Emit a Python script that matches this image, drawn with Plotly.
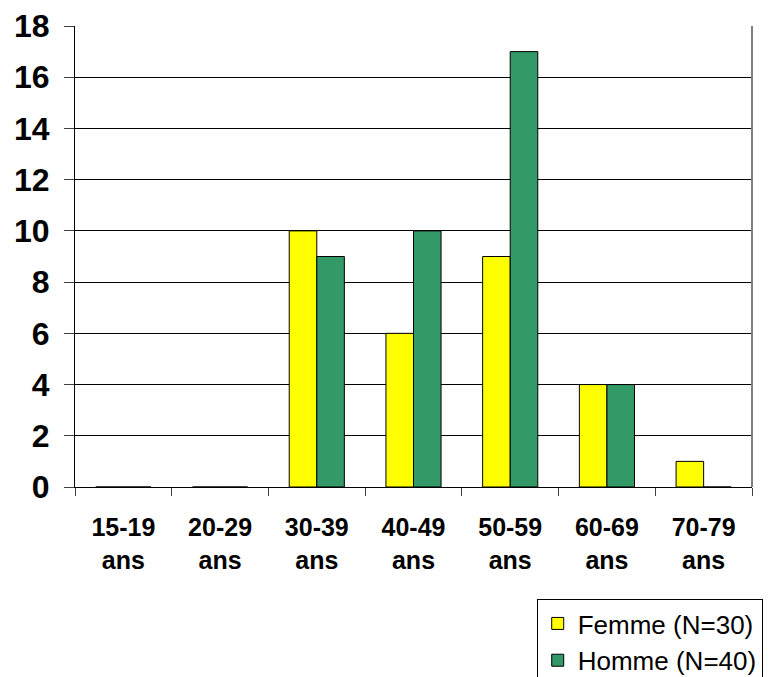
import plotly.graph_objects as go

categories = ["15-19<br>ans", "20-29<br>ans", "30-39<br>ans", "40-49<br>ans",
              "50-59<br>ans", "60-69<br>ans", "70-79<br>ans"]
femme = [0, 0, 10, 6, 9, 4, 1]
homme = [0, 0, 9, 10, 17, 4, 0]
y_ticks = [0, 2, 4, 6, 8, 10, 12, 14, 16, 18]

FONT = "Liberation Sans, Arial, sans-serif"

fig = go.Figure()
fig.add_trace(go.Bar(x=categories, y=femme, name="Femme (N=30)",
                     marker=dict(color="#FFFF00", line=dict(color="black", width=1)),
                     legendgroup="f"))
fig.add_trace(go.Bar(x=categories, y=homme, name="Homme (N=40)",
                     marker=dict(color="#339966", line=dict(color="black", width=1)),
                     legendgroup="h"))

fig.update_layout(
    width=774, height=677,
    margin=dict(l=67, r=30, t=18, b=198, autoexpand=False),
    plot_bgcolor="white", paper_bgcolor="white",
    barmode="group", bargap=0.43, bargroupgap=0,
    font=dict(family=FONT, color="black"),
    showlegend=True,
    legend=dict(x=0.682, y=-0.243, xanchor="left", yanchor="top",
                bordercolor="black", borderwidth=1,
                font=dict(size=26, family=FONT), tracegroupgap=0,
                bgcolor="white"),
    xaxis=dict(type="category", tickson="boundaries", ticks="outside", ticklen=8,
               tickcolor="#404040", showline=True, linecolor="black", linewidth=1,
               tickfont=dict(size=25, family=FONT, weight="bold"),
               ticklabelstandoff=18, automargin=False,
               showgrid=False, fixedrange=True),
    yaxis=dict(range=[0, 18], tickvals=y_ticks, ticks="outside", ticklen=10,
               tickcolor="#404040", showline=True, linecolor="black", linewidth=1,
               showgrid=True, gridcolor="black", gridwidth=1,
               tickfont=dict(size=32, family=FONT, weight="bold"),
               ticklabelstandoff=8, automargin=False, zeroline=False),
)
fig.add_shape(type="line", xref="paper", yref="paper", x0=1, x1=1, y0=0, y1=1,
              line=dict(color="#808080", width=2))

fig.write_html("out.html")
